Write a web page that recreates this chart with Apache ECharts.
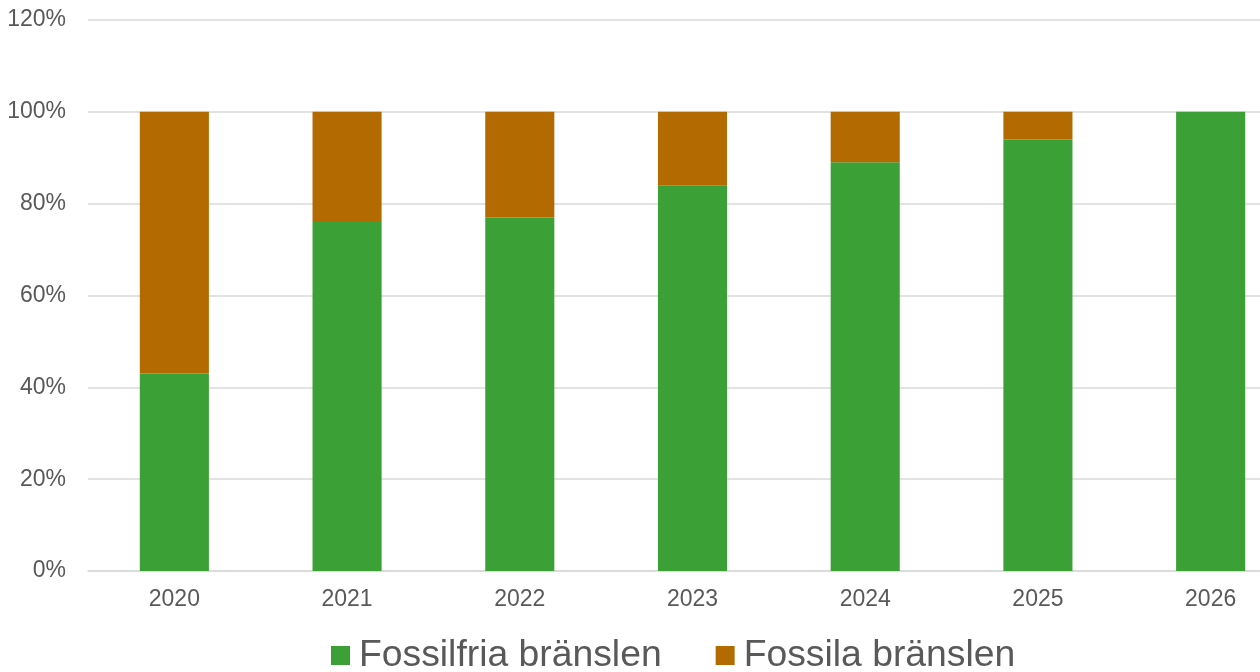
<!DOCTYPE html>
<html>
<head>
<meta charset="utf-8">
<script src="https://cdn.jsdelivr.net/npm/echarts@6/dist/echarts.min.js"></script>
<style>
html,body{margin:0;padding:0;background:#fff;overflow:hidden;width:1260px;height:672px;}
#chart{width:1297px;height:672px;}
</style>
</head>
<body>
<div id="chart"></div>
<script>
const categories = ['2020','2021','2022','2023','2024','2025','2026'];
const fossilfria = [43, 76, 77, 84, 89, 94, 100];
const fossila = [57, 24, 23, 16, 11, 6, 0];
const seriesNames = ['Fossilfria bränslen', 'Fossila bränslen'];
const colors = ['#3BA035', '#B36A00'];

const chart = echarts.init(document.getElementById('chart'), null, {renderer:'canvas'});
const font = 'Liberation Sans, Arial, sans-serif';
chart.setOption({
  animation: false,
  color: colors,
  grid: {left: 88, right: 0, top: 20, bottom: 101, containLabel: false},
  legend: {
    left: 326, top: 632,
    itemWidth: 19, itemHeight: 19, itemGap: 54,
    icon: 'rect',
    textStyle: {fontFamily: font, fontSize: 37.3, color: '#595959', padding: [0,0,0,4]},
    data: seriesNames
  },
  xAxis: {
    type: 'category', data: categories,
    axisLine: {lineStyle: {color: '#D9D9D9', width: 1.5}},
    axisTick: {show: false},
    axisLabel: {fontFamily: font, fontSize: 23, color: '#595959', margin: 17}
  },
  yAxis: {
    type: 'value', min: 0, max: 120, interval: 20,
    axisLine: {show: false}, axisTick: {show: false},
    splitLine: {lineStyle: {color: '#D9D9D9', width: 1.5}},
    axisLabel: {fontFamily: font, fontSize: 23, color: '#595959', margin: 22, formatter: '{value}%'}
  },
  series: [
    {name: seriesNames[0], type: 'bar', stack: 'a', barWidth: '40%', data: fossilfria},
    {name: seriesNames[1], type: 'bar', stack: 'a', barWidth: '40%', data: fossila}
  ]
});
</script>
</body>
</html>
